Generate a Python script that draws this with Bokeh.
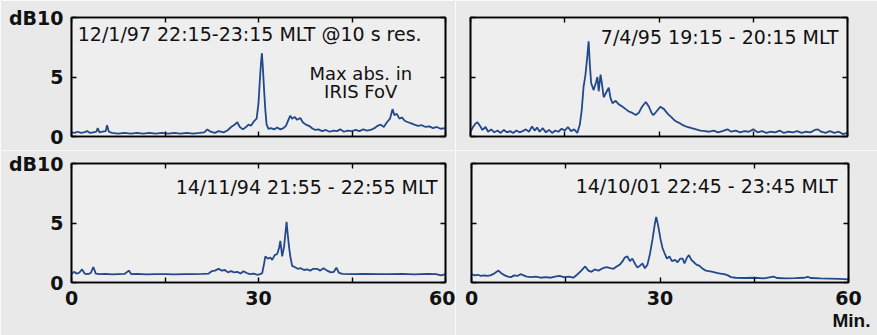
from bokeh.plotting import figure
from bokeh.models import Label, LinearAxis, FixedTicker, Range1d, Title
from bokeh.layouts import column, row
from bokeh.embed import file_html
from bokeh.resources import INLINE

# ---- absorption traces (minutes into the hour, dB) ----
t_970112 = [0.0, 0.5, 1.0, 1.5, 2.0, 2.5, 3.0, 3.5, 4.0, 4.2, 4.5, 5.0, 5.5, 5.7, 6.0, 6.5,
            7.5, 8.5, 9.5, 10.5, 11.5, 12.5, 13.5, 14.5, 15.5, 16.5, 17.5, 18.5, 19.5, 20.5,
            21.3, 21.8, 22.3, 23.0, 23.6, 24.4, 25.0, 25.6, 26.2, 26.6, 27.0, 27.5, 28.0, 28.4,
            28.8, 29.3, 29.7, 30.0, 30.2, 30.4, 30.55, 30.7, 30.9, 31.1, 31.3, 31.6, 32.0, 32.5,
            33.0, 33.5, 34.0, 34.4, 34.8, 35.1, 35.4, 35.8, 36.2, 36.7, 37.1, 37.6, 38.1, 38.6,
            39.1, 39.6, 40.2, 40.8, 41.4, 42.0, 42.6, 43.1, 43.7, 44.3, 45.0, 45.6, 46.2, 46.8,
            47.4, 48.0, 48.6, 49.1, 49.6, 50.1, 50.6, 51.1, 51.5, 51.8, 52.2, 52.6, 53.0, 53.5,
            54.0, 54.5, 55.0, 55.6, 56.2, 56.8, 57.4, 58.0, 58.6, 59.2, 60.0]
a_970112 = [0.35, 0.3, 0.4, 0.3, 0.35, 0.45, 0.3, 0.35, 0.4, 0.7, 0.35, 0.4, 0.45, 0.95, 0.4, 0.3,
            0.25, 0.3, 0.25, 0.3, 0.25, 0.3, 0.25, 0.3, 0.25, 0.3, 0.25, 0.3, 0.25, 0.3,
            0.35, 0.6, 0.4, 0.3, 0.45, 0.35, 0.5, 0.8, 1.0, 1.2, 0.8, 0.6, 0.8, 1.0,
            0.9, 1.3, 1.5, 2.8, 4.6, 6.2, 7.0, 5.8, 3.9, 2.2, 1.0, 0.65, 0.7, 0.6,
            0.75, 0.6, 0.7, 0.9, 1.4, 1.75, 1.5, 1.65, 1.4, 1.55, 1.2, 1.0, 0.9, 0.7,
            0.55, 0.6, 0.45, 0.55, 0.4, 0.5, 0.45, 0.6, 0.4, 0.5, 0.45, 0.55, 0.45, 0.6,
            0.5, 0.55, 0.7, 0.9, 1.0, 0.8, 1.2, 1.5, 2.3, 1.8, 1.9, 1.5, 1.6, 1.3,
            1.2, 1.1, 1.0, 0.9, 0.95, 0.8, 0.85, 0.7, 0.8, 0.65, 0.7]

t_950407 = [0.0, 0.4, 0.8, 1.1, 1.5, 1.9, 2.4, 2.8, 3.3, 3.8, 4.3, 4.8, 5.3, 5.8, 6.3, 6.8,
            7.3, 7.8, 8.3, 8.8, 9.3, 9.8, 10.2, 10.6, 11.0, 11.5, 12.0, 12.5, 13.0, 13.5, 14.0,
            14.5, 15.0, 15.5, 16.0, 16.5, 17.0, 17.4, 17.7, 18.0, 18.3, 18.6, 18.8, 19.0, 19.2,
            19.6, 20.0, 20.2, 20.4, 20.7, 20.9, 21.2, 21.6, 22.0, 22.3, 22.6, 23.1, 23.6, 24.2,
            24.7, 25.2, 25.7, 26.3, 26.8, 27.3, 27.9, 28.4, 28.8, 29.1, 29.6, 30.2, 30.8, 31.4,
            32.0, 32.6, 33.2, 33.8, 34.5, 35.2, 35.9, 36.6, 37.3, 38.0, 38.7, 39.4, 40.1, 40.9,
            41.5, 42.2, 42.9, 43.6, 44.3, 45.0, 45.7, 46.4, 47.1, 47.8, 48.5, 49.2, 49.9, 50.6,
            51.3, 52.0, 52.7, 53.4, 54.1, 54.8, 55.3, 55.8, 56.5, 57.2, 57.9, 58.6, 59.3, 60.0]
a_950407 = [0.4, 0.8, 1.1, 1.2, 0.9, 0.55, 0.8, 0.4, 0.6, 0.35, 0.5, 0.3, 0.55, 0.35, 0.45, 0.3,
            0.5, 0.35, 0.45, 0.6, 0.4, 0.85, 0.5, 0.75, 0.4, 0.7, 0.35, 0.55, 0.3, 0.5, 0.4,
            0.65, 0.5, 0.8, 0.45, 0.6, 0.3, 1.0, 2.2, 4.2, 5.2, 6.8, 8.0, 6.0, 4.5,
            3.9, 4.6, 5.0, 3.8, 5.2, 4.5, 3.3, 3.7, 4.1, 3.2, 2.8, 3.0, 2.7, 2.5,
            2.3, 2.1, 2.0, 1.8, 2.0, 2.5, 2.9, 2.5, 2.0, 1.8, 2.1, 2.5, 2.3, 1.9,
            1.6, 1.3, 1.15, 0.95, 0.8, 0.7, 0.6, 0.5, 0.45, 0.4, 0.5, 0.35, 0.45, 0.6,
            0.4, 0.5, 0.35, 0.45, 0.4, 0.6, 0.35, 0.45, 0.3, 0.4, 0.35, 0.5, 0.3, 0.4,
            0.35, 0.45, 0.3, 0.4, 0.35, 0.55, 0.6, 0.4, 0.3, 0.45, 0.3, 0.4, 0.2, 0.3]

t_941114 = [0.0, 0.4, 0.8, 1.2, 1.7, 2.1, 2.6, 3.1, 3.5, 3.9, 4.5, 5.5, 6.5, 7.5, 8.5, 9.2,
            9.6, 10.5, 12.0, 13.5, 15.0, 16.5, 18.0, 19.5, 21.0, 22.0, 22.5, 23.0, 23.6, 24.1,
            24.6, 25.1, 25.6, 26.1, 26.6, 27.1, 27.6, 28.1, 28.6, 29.2, 29.8, 30.3, 30.6, 30.9,
            31.1, 31.5, 31.9, 32.2, 32.6, 33.0, 33.3, 33.5, 33.8, 34.1, 34.35, 34.5, 34.7, 34.9,
            35.1, 35.4, 35.8, 36.3, 36.8, 37.3, 37.8, 38.3, 38.8, 39.4, 39.9, 40.4, 41.0, 41.6,
            42.1, 42.5, 42.9, 43.5, 45.0, 47.0, 49.0, 51.0, 53.0, 55.0, 57.0, 58.5, 59.3, 60.0]
a_941114 = [0.7, 0.9, 0.75, 0.8, 1.1, 0.75, 0.7, 0.8, 1.3, 0.75, 0.7, 0.72, 0.68, 0.7, 0.72, 1.0,
            0.7, 0.72, 0.68, 0.7, 0.7, 0.68, 0.7, 0.7, 0.72, 0.75, 0.95, 1.0, 1.15, 1.0,
            1.05, 0.85, 0.95, 0.85, 0.9, 0.75, 0.95, 0.8, 0.7, 0.75, 0.65, 0.7, 0.8, 1.6,
            2.2, 2.0, 2.1, 1.9, 2.3, 2.4, 2.9, 3.5, 2.2, 3.0, 4.3, 5.1, 4.0, 3.0,
            2.2, 1.4, 1.3, 1.15, 1.2, 1.05, 1.1, 1.0, 1.15, 1.15, 1.0, 1.2, 1.0, 0.85,
            0.9, 1.25, 0.8, 0.72, 0.7, 0.72, 0.7, 0.7, 0.72, 0.68, 0.72, 0.7, 0.6, 0.7]

t_011014 = [0.0, 0.5, 1.0, 1.5, 2.0, 2.5, 3.0, 3.6, 4.3, 4.8, 5.3, 5.8, 6.3, 6.8, 7.3, 7.8,
            8.3, 8.8, 9.5, 10.2, 11.0, 11.8, 12.6, 13.3, 14.0, 14.7, 15.5, 16.2, 16.8, 17.4,
            18.1, 18.6, 19.1, 19.6, 20.2, 20.9, 21.5, 22.1, 22.6, 23.1, 23.6, 24.0, 24.4, 24.8,
            25.2, 25.6, 26.0, 26.4, 26.8, 27.2, 27.6, 28.0, 28.4, 28.8, 29.2, 29.4, 29.7, 30.1,
            30.4, 30.7, 31.1, 31.5, 31.9, 32.4, 32.8, 33.2, 33.6, 33.9, 34.3, 34.6, 35.0, 35.4,
            35.8, 36.3, 36.8, 37.3, 37.8, 38.4, 39.0, 39.6, 40.2, 40.8, 41.3, 42.0, 43.5, 45.0,
            46.5, 48.1, 48.6, 50.0, 51.5, 53.0, 53.5, 54.0, 55.5, 57.0, 58.5, 60.0]
a_011014 = [0.7, 0.6, 0.65, 0.55, 0.6, 0.55, 0.6, 0.75, 1.0, 0.75, 0.6, 0.5, 0.45, 0.6, 0.55, 0.7,
            0.6, 0.5, 0.45, 0.5, 0.4, 0.45, 0.4, 0.5, 0.55, 0.45, 0.5, 0.4, 0.65, 0.95,
            1.35, 1.0, 0.9, 1.1, 1.0, 1.2, 1.3, 1.2, 1.15, 1.35, 1.5, 1.75, 2.1, 2.2,
            1.8, 2.0, 1.6, 1.25, 1.4, 1.6, 1.2, 1.5, 2.4, 3.6, 5.0, 5.5, 4.8, 3.6,
            2.9, 2.5, 2.0, 2.2, 1.8, 1.9, 1.7, 2.0, 2.0, 1.6, 2.1, 2.3, 1.9, 1.7,
            1.5, 1.4, 1.15, 1.0, 0.95, 0.9, 0.8, 0.75, 0.7, 0.6, 0.45, 0.4, 0.38, 0.4,
            0.35, 0.5, 0.38, 0.35, 0.37, 0.4, 0.48, 0.38, 0.35, 0.33, 0.3, 0.27]

x_ticks = [0, 15, 30, 45, 60]
x_tick_labels = {0: "0", 15: "", 30: "30", 45: "", 60: "60"}
y_ticks = [0, 5, 10]
y_tick_labels = {0: "0", 5: "5", 10: "dB10"}

LINE = "#23498a"
FONT = "DejaVu Sans"
INK = "#111111"


def style_axis(ax, ticks, labels=None):
    ax.ticker = FixedTicker(ticks=ticks)
    ax.axis_line_color = "black"
    ax.axis_line_width = 1.6
    ax.major_tick_in = 5
    ax.major_tick_out = 0
    ax.major_tick_line_color = "black"
    ax.major_tick_line_width = 1.4
    ax.minor_tick_line_color = None
    ax.major_label_text_font = FONT
    ax.major_label_text_font_style = "bold"
    ax.major_label_text_font_size = "19px"
    ax.major_label_text_color = INK
    if labels is not None:
        ax.major_label_standoff = 8
        ax.major_label_overrides = labels
    else:
        # tick marks only
        ax.major_label_standoff = 0
        ax.major_label_overrides = {t: "" for t in ticks}


def panel(w, h, bl, br, bt, bb, xs, ys, show_x, show_y):
    p = figure(width=w, height=h, x_range=Range1d(0, 60), y_range=Range1d(0, 10),
               output_backend="svg", toolbar_location=None,
               min_border_left=bl, min_border_right=br,
               min_border_top=bt, min_border_bottom=bb)
    p.background_fill_color = "#eeeeee"
    p.border_fill_color = "#e9e9e9"
    p.outline_line_color = "black"
    p.outline_line_width = 1.6
    p.xgrid.visible = False
    p.ygrid.visible = False
    style_axis(p.xaxis[0], x_ticks, x_tick_labels if show_x else None)
    style_axis(p.yaxis[0], y_ticks, y_tick_labels if show_y else None)
    top = LinearAxis()
    style_axis(top, x_ticks)
    p.add_layout(top, "above")
    right = LinearAxis()
    style_axis(right, y_ticks)
    p.add_layout(right, "right")
    p.line(xs, ys, line_color=LINE, line_width=1.8)
    return p


def caption(p, text, x, y, align, x_offset=0, size="19px"):
    p.add_layout(Label(x=x, y=y, x_offset=x_offset, text=text, text_align=align,
                       text_baseline="alphabetic", text_font=FONT,
                       text_font_size=size, text_color=INK))


p1 = panel(455, 150, 71, 10, 16, 14, t_970112, a_970112, False, True)
caption(p1, "12/1/97 22:15-23:15 MLT @10 s res.", 1, 8.65, "left")
caption(p1, "Max abs. in", 46.4, 5.3, "center", size="18px")
caption(p1, "IRIS FoV", 46.4, 3.8, "center", size="18px")

p2 = panel(422, 150, 15, 30, 17, 13, t_950407, a_950407, False, False)
caption(p2, "7/4/95 19:15 - 20:15 MLT", 60, 8.4, "right", x_offset=-9)

p3 = panel(455, 185, 71, 10, 11, 53, t_941114, a_941114, True, True)
caption(p3, "14/11/94 21:55 - 22:55 MLT", 60, 8.0, "right", x_offset=-8)

p4 = panel(422, 185, 16, 29, 13, 52, t_011014, a_011014, True, False)
caption(p4, "14/10/01 22:45 - 23:45 MLT", 60, 8.1, "right", x_offset=-11)
p4.add_layout(Title(text="Min.", align="right", offset=-22, standoff=0,
                    text_font="Liberation Sans", text_font_style="bold",
                    text_font_size="19px", text_color=INK), "below")

layout = column(row(p1, p2), row(p3, p4))
open("out.html", "w").write(file_html(layout, INLINE))
